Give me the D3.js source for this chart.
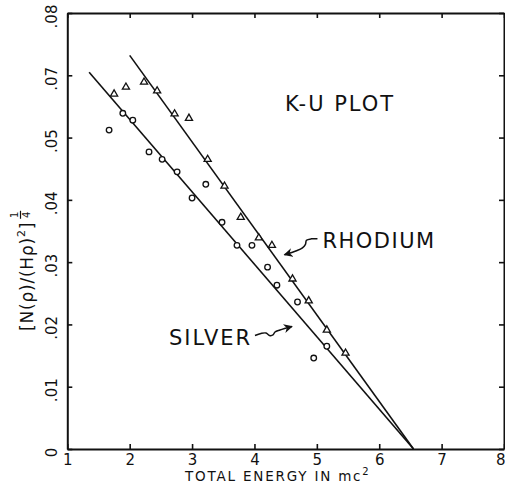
<!DOCTYPE html>
<html>
<head>
<meta charset="utf-8">
<script src="https://cdn.jsdelivr.net/npm/d3@7"></script>
<style>
	body { margin: 0; background: #fff; }
	svg { display: block; }
	text { font-family: "DejaVu Sans", sans-serif; fill: #111; }
</style>
</head>
<body>
<svg id="chart"></svg>
<script>
// K-U plot values
var xTicks = [1, 2, 3, 4, 5, 6, 7, 8];
var xTickLabels = ["1", "2", "3", "4", "5", "6", "7", "8"];
var yTicks = [0, 0.01, 0.02, 0.03, 0.04, 0.05, 0.06, 0.07];
var yTickLabels = ["0", ".01", ".02", ".03", ".04", ".05", ".07", ".08"];

var rhodiumEnergy = [1.75, 1.94, 2.23, 2.44, 2.72, 2.95, 3.25, 3.52, 3.78, 4.07, 4.28, 4.61, 4.87, 5.16, 5.46];
var rhodiumKU = [0.0570, 0.0581, 0.0589, 0.0575, 0.0538, 0.0531, 0.0465, 0.0422, 0.0372, 0.0339, 0.0327, 0.0273, 0.0238, 0.0191, 0.0154];

var silverEnergy = [1.67, 1.89, 2.05, 2.31, 2.52, 2.76, 3.00, 3.22, 3.48, 3.72, 3.96, 4.21, 4.36, 4.69, 4.95, 5.16];
var silverKU = [0.0512, 0.0539, 0.0528, 0.0477, 0.0465, 0.0445, 0.0403, 0.0425, 0.0364, 0.0327, 0.0327, 0.0292, 0.0263, 0.0236, 0.0146, 0.0165];

// straight lines drawn through each set (end points)
var rhodiumFitEnergy = [2.0, 6.55];
var rhodiumFitKU = [0.0632, 0];
var silverFitEnergy = [1.35, 6.55];
var silverFitKU = [0.0605, 0];

(function(){
	'use strict';

	var W = 505, H = 485;
	var svg = d3.select("#chart").attr("width", W).attr("height", H);

	var x = d3.scaleLinear().domain([1, 8]).range([67.3, 504]);
	var y = d3.scaleLinear().domain([0, 0.07]).range([449, 13]);

	var defs = svg.append("defs");
	defs.append("marker")
		.attr("id", "head")
		.attr("viewBox", "0 0 10 10")
		.attr("refX", 9).attr("refY", 5)
		.attr("markerWidth", 9).attr("markerHeight", 9)
		.attr("markerUnits", "userSpaceOnUse")
		.attr("orient", "auto")
		.append("path").attr("d", "M0,0 L10,5 L0,10 L3,5 Z").attr("fill", "#111");

	// axes, ticks pointing inward on all four sides
	function styleAxis(g){
		g.select(".domain").attr("stroke", "#111").attr("stroke-width", 2);
		g.selectAll(".tick line").attr("stroke", "#111").attr("stroke-width", 1.6);
	}

	var bottom = svg.append("g")
		.attr("transform", "translate(0," + y(0) + ")")
		.call(d3.axisBottom(x).tickValues(xTicks).tickSizeInner(-5).tickSizeOuter(0).tickPadding(5)
			.tickFormat(function(d, i){ return xTickLabels[i]; }));
	styleAxis(bottom);
	bottom.selectAll("text").attr("font-size", 15).style("font-family", "DejaVu Sans, sans-serif").attr("fill", "#111");
	// last label sits right at the frame edge
	bottom.selectAll("text").filter(function(d){ return d === 8; })
		.attr("text-anchor", "end").attr("x", 1);

	var top = svg.append("g")
		.attr("transform", "translate(0," + y(0.07) + ")")
		.call(d3.axisTop(x).tickValues(xTicks).tickSizeInner(-5).tickSizeOuter(0).tickFormat(""));
	styleAxis(top);

	var left = svg.append("g")
		.attr("transform", "translate(" + x(1) + ",0)")
		.call(d3.axisLeft(y).tickValues(yTicks).tickSizeInner(-5).tickSizeOuter(0)
			.tickFormat(function(d, i){ return yTickLabels[i]; }));
	styleAxis(left);
	left.selectAll("text")
		.attr("transform", "rotate(-90)")
		.attr("x", -3).attr("y", -10).attr("dy", 0)
		.attr("text-anchor", "middle")
		.attr("font-size", 15)
		.style("font-family", "DejaVu Sans, sans-serif")
		.attr("fill", "#111");

	var right = svg.append("g")
		.attr("transform", "translate(" + x(8) + ",0)")
		.call(d3.axisRight(y).tickValues(yTicks).tickSizeInner(-5).tickSizeOuter(0).tickFormat(""));
	styleAxis(right);

	// fitted lines
	var line = d3.line()
		.x(function(d){ return x(d[0]); })
		.y(function(d){ return y(d[1]); });

	[[rhodiumFitEnergy, rhodiumFitKU], [silverFitEnergy, silverFitKU]].forEach(function(f){
		svg.append("path")
			.datum(d3.zip(f[0], f[1]))
			.attr("d", line)
			.attr("fill", "none")
			.attr("stroke", "#111")
			.attr("stroke-width", 1.6);
	});

	// points
	svg.append("g").selectAll("circle")
		.data(d3.zip(silverEnergy, silverKU))
		.enter().append("circle")
		.attr("cx", function(d){ return x(d[0]); })
		.attr("cy", function(d){ return y(d[1]); })
		.attr("r", 2.8)
		.attr("fill", "#fff")
		.attr("stroke", "#111")
		.attr("stroke-width", 1.3);

	var tri = d3.symbol().type(d3.symbolTriangle).size(22);
	svg.append("g").selectAll("path")
		.data(d3.zip(rhodiumEnergy, rhodiumKU))
		.enter().append("path")
		.attr("d", tri)
		.attr("transform", function(d){ return "translate(" + x(d[0]) + "," + y(d[1]) + ")"; })
		.attr("fill", "#fff")
		.attr("stroke", "#111")
		.attr("stroke-width", 1.3);

	// title and series labels
	svg.append("text")
		.attr("x", x(4.49)).attr("y", y(0.0543))
		.attr("font-size", 21)
		.attr("letter-spacing", 2)
		.text("K-U PLOT");

	var rhX = x(5.09), rhY = y(0.0323);
	svg.append("text")
		.attr("x", rhX).attr("y", rhY)
		.attr("font-size", 21)
		.attr("letter-spacing", 1.5)
		.text("RHODIUM");

	var agX = x(2.63), agY = y(0.0167);
	svg.append("text")
		.attr("x", agX).attr("y", agY)
		.attr("font-size", 21)
		.attr("letter-spacing", 2)
		.text("SILVER");

	var squiggle = d3.line().curve(d3.curveCatmullRom);
	var rhArrow = [[-5,-9],[-11,-9],[-16,-7.5],[-17,-3.5],[-20,0],[-26,3],[-38,7]];
	var agArrow = [[86,-9.5],[92,-11.5],[97,-12],[100.5,-9.5],[104,-10],[106,-13],[111,-15],[123,-18.5]];

	svg.append("path")
		.attr("d", squiggle(rhArrow.map(function(p){ return [rhX + p[0], rhY + p[1]]; })))
		.attr("fill", "none").attr("stroke", "#111").attr("stroke-width", 1.5)
		.attr("marker-end", "url(#head)");

	svg.append("path")
		.attr("d", squiggle(agArrow.map(function(p){ return [agX + p[0], agY + p[1]]; })))
		.attr("fill", "none").attr("stroke", "#111").attr("stroke-width", 1.5)
		.attr("marker-end", "url(#head)");

	// axis titles
	var xt = svg.append("text")
		.attr("x", 185).attr("y", 481)
		.attr("font-size", 13.5)
		.attr("letter-spacing", 1.8);
	xt.append("tspan").text("TOTAL ENERGY IN mc");
	xt.append("tspan").attr("font-size", 10).attr("dy", -6).text("2");

	var yl = svg.append("g").attr("transform", "translate(33,331) rotate(-90)");
	var yt = yl.append("text")
		.attr("x", 0).attr("y", 0)
		.attr("font-size", 17)
		.attr("letter-spacing", 0.8);
	yt.append("tspan").text("[N(\u03C1)/(H\u03C1)");
	yt.append("tspan").attr("font-size", 11).attr("dy", -8).text("2");
	yt.append("tspan").attr("dy", 8).text("]");

	var fx = yt.node().getComputedTextLength() + 7;
	yl.append("text").attr("x", fx).attr("y", -15).attr("font-size", 10).attr("text-anchor", "middle").text("1");
	yl.append("line").attr("x1", fx - 4).attr("x2", fx + 4).attr("y1", -12.5).attr("y2", -12.5)
		.attr("stroke", "#111").attr("stroke-width", 1.2);
	yl.append("text").attr("x", fx).attr("y", -3).attr("font-size", 10).attr("text-anchor", "middle").text("4");
})();
</script>
</body>
</html>
